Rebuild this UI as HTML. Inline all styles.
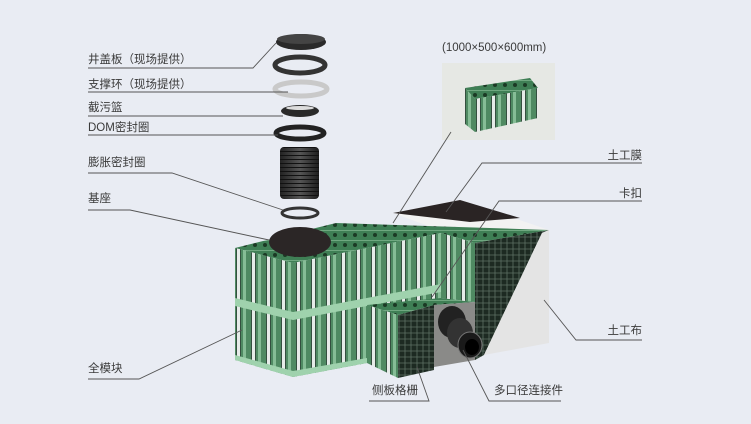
<!DOCTYPE html>
<html><head><meta charset="utf-8"><style>
html,body{margin:0;padding:0;background:#e9ecf3;}
svg{display:block}
text{font-family:"Liberation Sans","Noto Sans CJK SC",sans-serif;font-size:11.5px;fill:#3a3a3a}
</style></head><body>
<svg width="751" height="424" viewBox="0 0 751 424" xmlns="http://www.w3.org/2000/svg">
<defs>
<pattern id="cols" width="15" height="10" patternUnits="userSpaceOnUse">
<rect width="15" height="10" fill="#34503f"/>
<rect x="12" width="3" height="10" fill="#e6ebe8"/>
<rect x="1" width="10" height="10" fill="#4f8a62"/>
<rect x="3" width="3" height="10" fill="#86bd96"/>
</pattern>
<pattern id="grid" width="6" height="6" patternUnits="userSpaceOnUse">
<rect width="6" height="6" fill="#1d2a22"/>
<path d="M0 3H6M3 0V6" stroke="#5d6f63" stroke-width="0.8"/>
</pattern>
<pattern id="top" width="10" height="10" patternUnits="userSpaceOnUse">
<rect width="10" height="10" fill="#3f7f55"/>
<circle cx="5" cy="5" r="2" fill="#1b3a25"/>
<rect x="0" y="0" width="10" height="1" fill="#6fa880"/>
</pattern>
<linearGradient id="cyl" x1="0" x2="1"><stop offset="0" stop-color="#222"/><stop offset="0.5" stop-color="#555"/><stop offset="1" stop-color="#1a1a1a"/></linearGradient>
<pattern id="rib" width="40" height="4" patternUnits="userSpaceOnUse"><rect width="40" height="4" fill="url(#cyl)"/><rect y="3" width="40" height="1" fill="#111"/></pattern>
</defs>
<rect width="751" height="424" fill="#e9ecf3"/>

<polygon points="393,213 460,200 549,230 542,233 484,355 475,360 475,243" fill="#f2f2f2"/>
<polygon points="393,213 460,200 520,218 470,222" fill="#2a2424"/>
<polygon points="235,248 336,223 549,230 475,243 441,233 293,263" fill="url(#top)"/>
<polygon points="235,248 293,263 293,377 235,360" fill="url(#cols)"/>
<polygon points="293,263 441,233 441,302 367,305 367,363 293,377" fill="url(#cols)"/>
<polygon points="235,298 293,312 441,284 441,292 293,320 235,306" fill="#9fd2ad"/>
<polygon points="235,355 293,371 367,358 367,363 293,377 235,360" fill="#9fd2ad"/>
<polygon points="367,305 441,298 475,302 434,305 398,315" fill="url(#top)"/>
<polygon points="367,305 398,315 398,378 367,363" fill="url(#cols)"/>
<polygon points="441,233 475,243 475,302 441,298" fill="url(#cols)"/>
<polygon points="398,315 434,305 434,370 398,378" fill="url(#grid)"/>
<polygon points="475,243 549,230 542,233 484,355 475,360" fill="url(#grid)"/>
<polygon points="542,233 549,230 549,343 484,355" fill="#e4e4e4"/>
<polygon points="434,305 475,302 475,360 434,367" fill="#8a8a88"/>
<ellipse cx="452" cy="322" rx="14" ry="16" fill="#222"/>
<ellipse cx="460" cy="333" rx="13" ry="15" fill="#333"/>
<ellipse cx="470" cy="345" rx="12" ry="13" fill="#1a1a1a" stroke="#777" stroke-width="1"/>
<ellipse cx="472" cy="347" rx="7" ry="8" fill="#000"/>

<ellipse cx="301" cy="42" rx="25" ry="8" fill="#2a2a2a"/>
<ellipse cx="301" cy="39" rx="24" ry="5" fill="#444"/>
<ellipse cx="300" cy="65" rx="25" ry="8" fill="none" stroke="#333" stroke-width="5"/>
<ellipse cx="301" cy="89" rx="26" ry="7" fill="none" stroke="#c9c9c9" stroke-width="5"/>
<ellipse cx="300" cy="111" rx="19" ry="6" fill="#2a2a2a"/>
<ellipse cx="300" cy="108" rx="14" ry="2" fill="#ddd"/>
<ellipse cx="300" cy="133" rx="24" ry="6" fill="none" stroke="#222" stroke-width="5"/>
<rect x="280" y="147" width="39" height="52" rx="4" fill="url(#rib)"/>
<ellipse cx="300" cy="213" rx="18" ry="5" fill="none" stroke="#333" stroke-width="3"/>
<ellipse cx="300" cy="242" rx="31" ry="15" fill="#2b2626"/>

<rect x="442" y="63" width="113" height="77" fill="#e6e8e4"/>
<polygon points="465,88 530,78 538,88 475,99" fill="url(#top)"/>
<polygon points="465,88 475,99 475,132 465,124" fill="url(#cols)"/>
<polygon points="475,99 538,88 538,118 475,132" fill="url(#cols)"/>
<text x="442" y="51">(1000×500×600mm)</text>

<g stroke="#555" stroke-width="0.9" fill="none">
<polyline points="88,68 253,68 276,43"/>
<polyline points="88,92 288,92"/>
<polyline points="88,116 283,116"/>
<polyline points="88,135 278,135"/>
<polyline points="88,173 172,173 283,210"/>
<polyline points="88,210 130,210 269,240"/>
<polyline points="88,379 139,379 242,330"/>
<polyline points="642,163 482,163 446,212"/>
<polyline points="451,132 393,223"/>
<polyline points="642,201 499,201 432,297"/>
<polyline points="642,340 576,340 544,300"/>
<polyline points="369,401 429,401 417,367"/>
<polyline points="561,401 489,401 463,350"/>
</g>
<text x="88" y="63">井盖板（现场提供）</text>
<text x="88" y="88">支撑环（现场提供）</text>
<text x="88" y="111">截污篮</text>
<text x="88" y="131">DOM密封圈</text>
<text x="88" y="166">膨胀密封圈</text>
<text x="88" y="202">基座</text>
<text x="88" y="372">全模块</text>
<text x="642" y="159" text-anchor="end">土工膜</text>
<text x="642" y="197" text-anchor="end">卡扣</text>
<text x="642" y="334" text-anchor="end">土工布</text>
<text x="372" y="394">侧板格栅</text>
<text x="494" y="394">多口径连接件</text>
</svg>
</body></html>
